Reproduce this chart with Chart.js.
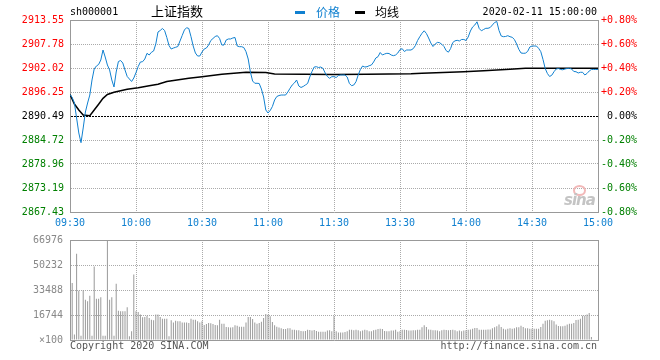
<!DOCTYPE html>
<html><head><meta charset="utf-8">
<script src="https://cdn.jsdelivr.net/npm/chart.js@4.4.1/dist/chart.umd.min.js"></script>
<style>
html,body{margin:0;padding:0;background:#fff;width:660px;height:360px;overflow:hidden;}
#wrap{position:relative;width:660px;height:360px;}
canvas{position:absolute;left:0;}
.t{position:absolute;white-space:nowrap;font-family:'DejaVu Sans Mono',monospace;font-size:10px;line-height:12px;color:#000;}
.cjk{font-family:'Noto Sans CJK SC',sans-serif;}
</style></head><body>
<div id="wrap">
<canvas id="main" width="660" height="236" style="top:0"></canvas>
<canvas id="vol" width="660" height="134" style="top:226px"></canvas>
<div class="t" style="left:70px;top:6px;">sh000001</div>
<div class="t cjk" style="left:151px;top:2px;font-size:13px;line-height:18px;">上证指数</div>
<div style="position:absolute;left:295px;top:11px;width:10px;height:3px;background:#1080d0"></div>
<div class="t cjk" style="left:316px;top:3px;font-size:12px;line-height:17px;color:#1080d0">价格</div>
<div style="position:absolute;left:355px;top:11px;width:10px;height:3px;background:#000"></div>
<div class="t cjk" style="left:375px;top:3px;font-size:12px;line-height:17px;">均线</div>
<div class="t" style="right:63px;top:6px;">2020-02-11 15:00:00</div>
<div style="position:absolute;left:573px;top:185px;width:9px;height:7px;border:2px solid #f2b8b8;border-radius:50%;"></div>
<div class="t" style="left:564px;top:192px;font-family:'DejaVu Sans',sans-serif;font-weight:bold;font-style:italic;font-size:15px;line-height:16px;color:#c4c4c4;letter-spacing:-1px;">sina</div>
<div class="t" style="left:70px;top:340px;color:#555;">Copyright 2020 SINA.COM</div>
<div class="t" style="right:63px;top:340px;color:#555;">http://finance.sina.com.cn</div>
</div>
<script>
const PREV_CLOSE = 2890.49;
const priceTicks = [2867.43, 2873.19, 2878.96, 2884.72, 2890.49, 2896.25, 2902.02, 2907.78, 2913.55];
const pctTicks = [-0.8, -0.6, -0.4, -0.2, 0, 0.2, 0.4, 0.6, 0.8];
const timeLabels = ['09:30','10:00','10:30','11:00','11:30','13:30','14:00','14:30','15:00'];
const volTicks = [0, 16744, 33488, 50232, 66976];

// one value per trading minute (0 = 09:30 ... 120 = 11:30/13:00 ... 240 = 15:00)
const prices = [
2895.65,2894.93,2893.61,2890.01,2886.41,2884.08,2887.61,2891.45,2893.61,2895.53,
2899.14,2901.78,2902.50,2902.86,2903.94,2906.34,2904.66,2902.74,2901.54,2899.14,
2897.46,2901.06,2903.58,2903.82,2903.22,2901.54,2899.98,2899.38,2898.78,2899.62,
2900.94,2902.38,2903.46,2903.53,2904.18,2905.55,2905.14,2905.79,2906.10,2907.79,
2910.67,2911.03,2911.51,2911.03,2909.35,2907.42,2906.58,2906.82,2906.99,2907.18,
2908.51,2909.83,2911.15,2911.70,2911.51,2909.54,2907.30,2905.62,2904.90,2904.90,
2905.86,2906.58,2906.82,2907.54,2908.63,2909.11,2909.59,2909.78,2909.11,2907.54,
2907.54,2908.75,2908.99,2908.99,2909.23,2909.35,2907.30,2907.14,2907.14,2906.94,
2905.94,2904.18,2901.06,2898.90,2898.35,2898.35,2898.30,2896.98,2895.05,2891.93,
2891.21,2891.81,2892.77,2894.33,2895.17,2895.41,2895.53,2895.53,2895.53,2896.25,
2897.14,2897.94,2898.42,2899.14,2897.70,2897.34,2897.58,2897.94,2898.30,2899.86,
2901.18,2902.26,2902.33,2902.14,2902.26,2901.90,2900.82,2899.98,2899.55,2899.93,
2899.93,2899.74,2900.22,2900.34,2900.34,2900.34,2899.86,2898.30,2897.77,2897.94,
2898.73,2900.34,2901.66,2902.50,2902.26,2902.33,2902.57,2902.74,2903.46,2904.42,
2904.73,2905.74,2905.14,2905.38,2905.55,2905.50,2905.14,2904.98,2905.14,2905.62,
2906.46,2906.66,2905.98,2906.34,2906.34,2906.34,2906.66,2907.42,2908.63,2909.54,
2910.36,2910.96,2910.31,2909.23,2908.03,2907.18,2907.79,2908.17,2908.10,2907.71,
2907.18,2906.18,2905.82,2906.70,2908.15,2908.55,2908.67,2908.51,2908.87,2908.87,
2908.63,2909.47,2910.91,2911.87,2912.35,2913.12,2911.51,2910.96,2911.27,2911.56,
2911.56,2911.75,2912.35,2912.95,2913.19,2911.03,2909.71,2909.54,2909.59,2909.78,
2909.54,2909.39,2908.87,2907.79,2906.51,2905.62,2905.55,2905.58,2905.98,2907.06,
2907.30,2907.30,2907.30,2906.75,2905.94,2904.06,2901.90,2900.70,2899.98,2900.29,
2901.13,2901.78,2901.90,2901.66,2901.59,2901.78,2901.90,2901.95,2901.78,2901.18,
2901.13,2900.82,2900.99,2900.99,2900.34,2900.70,2901.30,2901.67,2901.67,2901.67,
2901.67
];

const avgMinutes = [0,2,4,6,9,11,13,15,17,20,23,26,31,36,40,44,54,60,69,80,89,93,120,135,155,160,179,188,200,207,240];
const avgPrices = [2895.65,2893.37,2891.93,2890.73,2890.56,2891.93,2893.30,2894.74,2895.65,2896.18,
2896.57,2896.93,2897.29,2897.77,2898.13,2898.78,2899.55,2899.93,2900.51,2900.99,
2900.94,2900.58,2900.46,2900.51,2900.65,2900.75,2901.13,2901.37,2901.71,2901.95,2901.95];

// volume per minute (x100 shares)
const volumes = [
64500,38200,3600,57800,33000,2900,33300,27000,25900,29700,
2900,49300,27700,27700,28600,2900,2900,66750,27000,28600,
2900,37700,19600,19200,19200,19200,21900,2500,5800,43800,
19200,18800,17000,15200,15400,16300,14700,13600,13200,17000,
17000,15400,14300,14300,14300,2500,13200,11800,12900,12500,
12500,11800,11800,11800,11400,14300,13600,13600,12500,11800,
12500,10000,10700,11400,11200,10700,10000,9800,13600,10900,
10900,8700,8500,8300,8500,9800,9600,8900,8900,8900,
11800,15400,15400,14100,11800,10900,11400,12300,14700,17400,
16900,15900,12100,9800,8900,8300,7800,7400,7400,7800,
7800,6900,6900,6500,6500,6000,5800,6000,6900,6700,
6300,6700,6000,5600,5600,5600,5600,6300,6500,5800,
15900,5800,5100,5100,5100,5400,5800,6900,6900,6500,
6900,6500,5800,6300,6900,6500,5800,5800,6500,6900,
7400,7600,7400,6000,5800,5800,6300,6300,6900,5600,
5800,6900,6900,6700,6300,6300,6500,6500,6900,6900,
8500,9800,8700,7100,6900,6500,6500,6300,5800,6500,
6900,6700,6500,6700,6900,6500,5800,6300,5800,6300,
6500,6900,7100,7600,8000,8000,6900,6900,6900,6900,
7100,7100,7800,8500,9200,10300,8700,7600,7100,7600,
7800,7600,7800,8500,8500,9600,8700,7800,7800,7600,
7600,7600,7600,7600,8700,10900,12900,13200,13600,13200,
12500,10300,9400,9200,9200,9600,10300,10900,10900,11400,
13400,13600,14300,16300,16300,17000,18100,2000,0,0,
0
];

const BLUE = '#1080d0';
const RED = '#ff0000';
const GREEN = '#008000';
const GRID = '#aaaaaa';
const BORDER = '#999999';
const MONO = "'DejaVu Sans Mono', monospace";

function signColor(d){ return Math.abs(d) < 1e-6 ? '#000' : (d > 0 ? RED : GREEN); }

const xTimeScale = (showLabels, h) => ({
  type: 'linear', min: 0, max: 240, offset: false,
  afterBuildTicks: (s) => { s.ticks = timeLabels.map((_, i) => ({ value: i * 30 })); },
  afterFit: (s) => { s.height = h; },
  ticks: { display: showLabels, autoSkip: false, maxRotation: 0, minRotation: 0, padding: 5, color: BLUE,
           font: { family: MONO, size: 10 }, callback: (v) => timeLabels[Math.round(v / 30)] },
  grid: { drawTicks: false, offset: false, lineWidth: 1, color: GRID },
  border: { color: BORDER, width: 1, dash: [1, 1] }
});

new Chart(document.getElementById('main'), {
  type: 'line',
  data: { datasets: [
    { data: prices.map((p, i) => ({ x: i, y: p })), borderColor: BLUE, borderWidth: 1, pointRadius: 0, tension: 0, yAxisID: 'y' },
    { data: avgMinutes.map((m, i) => ({ x: m, y: avgPrices[i] })), borderColor: '#000', borderWidth: 1.5, pointRadius: 0, tension: 0, yAxisID: 'y' }
  ]},
  options: {
    responsive: false, animation: false, devicePixelRatio: 1,
    layout: { padding: { top: 20, right: 23, left: 0, bottom: 0 } },
    plugins: { legend: { display: false }, tooltip: { enabled: false } },
    scales: {
      x: xTimeScale(true, 24),
      y: {
        position: 'left', min: priceTicks[0], max: priceTicks[priceTicks.length - 1],
        afterBuildTicks: (s) => { s.ticks = priceTicks.map(v => ({ value: v })); },
        afterFit: (s) => { s.width = 70; },
        ticks: { padding: 6, font: { family: MONO, size: 10 },
                 color: (c) => signColor(c.tick.value - PREV_CLOSE),
                 callback: (v) => Number(v).toFixed(2) },
        grid: { drawTicks: false, lineWidth: 1,
                color: (c) => c.index === 4 ? '#000' : (c.index === 8 ? BORDER : GRID) },
        border: { color: BORDER, width: 1,
                  dash: (c) => c.index === 4 ? [2, 1] : (c.index === 8 ? [] : [1, 1]) }
      },
      y2: {
        position: 'right', min: -0.8, max: 0.8,
        afterBuildTicks: (s) => { s.ticks = pctTicks.map(v => ({ value: v })); },
        afterFit: (s) => { s.width = 39; },
        ticks: { crossAlign: 'far', font: { family: MONO, size: 10 },
                 color: (c) => signColor(c.tick.value),
                 callback: (v) => Math.abs(v) < 1e-9 ? '0.00%' : (v > 0 ? '+' : '') + Number(v).toFixed(2) + '%' },
        grid: { display: false, drawTicks: false },
        border: { color: BORDER, width: 1 }
      }
    }
  }
});

new Chart(document.getElementById('vol'), {
  type: 'bar',
  data: { datasets: [
    { data: volumes.map((v, i) => ({ x: i, y: v })), backgroundColor: '#999999', borderWidth: 0, barThickness: 1, inflateAmount: 0 }
  ]},
  options: {
    responsive: false, animation: false, devicePixelRatio: 1,
    layout: { padding: { top: 14, right: 23, left: 0, bottom: 0 } },
    plugins: { legend: { display: false }, tooltip: { enabled: false } },
    scales: {
      x: xTimeScale(false, 20),
      y: {
        position: 'left', min: 0, max: volTicks[volTicks.length - 1],
        afterBuildTicks: (s) => { s.ticks = volTicks.map(v => ({ value: v })); },
        afterFit: (s) => { s.width = 70; },
        ticks: { padding: 7, color: '#888888', font: { family: MONO, size: 10 },
                 callback: (v) => v === 0 ? '×100' : String(v) },
        grid: { drawTicks: false, lineWidth: 1, color: (c) => c.index === 4 ? BORDER : GRID },
        border: { color: BORDER, width: 1, dash: (c) => c.index === 4 ? [] : [1, 1] }
      },
      y2: {
        position: 'right', min: 0, max: 1,
        afterFit: (s) => { s.width = 39; },
        ticks: { display: false },
        grid: { display: false, drawTicks: false },
        border: { color: BORDER, width: 1 }
      }
    }
  }
});
</script>
</body></html>
